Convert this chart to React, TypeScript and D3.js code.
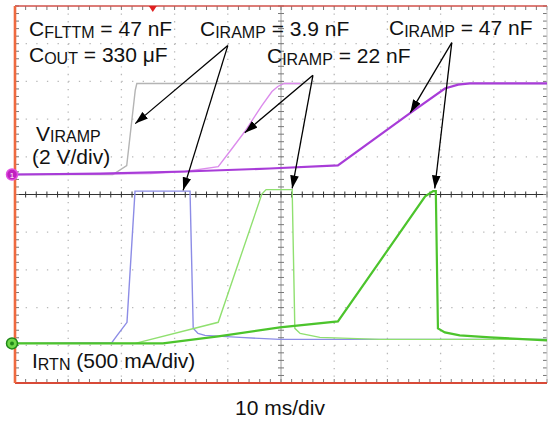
import React from "react";
import * as d3 from "d3";

// ---- data (time in ms, 10 ms/div; voltage in V; current in A) ----
const vGrayT = [0, 18.4, 21.0, 22.6, 22.9, 100];
const vGrayV = [0, 0, 0.48, 4.46, 4.83, 4.83];

const vPinkT = [0, 25.4, 32.0, 38.2, 40.8, 43.2, 46.4, 48.3, 49.4, 50.6, 53.6];
const vPinkV = [0, 0.05, 0.16, 0.42, 1.38, 2.28, 3.66, 4.4, 4.67, 4.83, 4.83];

const vPurpleT = [0, 16.0, 32.0, 47.9, 60.7, 74.2, 80.8, 83.3, 85.5, 100];
const vPurpleV = [0, 0.05, 0.16, 0.32, 0.48, 3.24, 4.56, 4.77, 4.83, 4.83];

const iBlueT = [0, 18.2, 19.2, 21.05, 22.56, 32.9, 33.5, 34.4, 35.7, 42.3, 49.8, 100];
const iBlueI = [0, 0.01, 0.106, 0.28, 2.02, 2.02, 0.2, 0.133, 0.106, 0.08, 0.053, 0.053];

const iLightGreenT = [0, 22.6, 38.2, 46.4, 47.2, 52.1, 52.6, 53.6, 57.3, 68.6, 100];
const iLightGreenI = [0, 0, 0.28, 1.98, 2.04, 2.04, 0.2, 0.133, 0.08, 0.053, 0.053];

const iGreenT = [0, 27.8, 38.2, 49.8, 60.7, 77.1, 78.6, 79.1, 79.5, 80.8, 83.6, 89.3, 100];
const iGreenI = [0, 0, 0.093, 0.212, 0.292, 1.95, 2.02, 2.02, 0.2, 0.146, 0.106, 0.08, 0.04];

// annotation arrows: [fromT, fromDiv, toT, toDiv]
const arrows = [
  [40.0, 3.95, 22.6, 1.88],
  [40.0, 3.95, 31.6, 0.11],
  [56.0, 3.16, 43.2, 1.64],
  [56.0, 3.16, 52.1, 0.16],
  [82.1, 4.03, 74.3, 2.17],
  [82.1, 4.03, 78.9, 0.16],
];

const W = 550;
const H = 423;
const X0 = 15, X1 = 547, Y0 = 6, Y1 = 383;
const CH1_OFFSET_DIV = 0.53;
const CH2_OFFSET_DIV = -3.95;
const V_PER_DIV = 2;
const A_PER_DIV = 0.5;
const FONT = "'Liberation Sans', Arial, Helvetica, sans-serif";

const xS = d3.scaleLinear().domain([0, 100]).range([X0, X1]);
const yDiv = d3.scaleLinear().domain([-5, 5]).range([Y1, Y0]);
const yV = (v: number) => yDiv(CH1_OFFSET_DIV + v / V_PER_DIV);
const yI = (i: number) => yDiv(CH2_OFFSET_DIV + i / A_PER_DIV);

function pts(t: number[], v: number[]): [number, number][] {
  return t.map((tt, k) => [tt, v[k]]);
}

const lineV = d3.line<[number, number]>().x(d => xS(d[0])).y(d => yV(d[1]));
const lineI = d3.line<[number, number]>().x(d => xS(d[0])).y(d => yI(d[1]));

function Sub({ main, sub, rest, x, y, dy = 2 }: { main: string; sub: string; rest: string; x: number; y: number; dy?: number }) {
  return (
    <text x={x} y={y} fontSize={21} fontFamily={FONT} fill="#111">
      <tspan>{main}</tspan>
      <tspan fontSize={16} dy={dy}>{sub}</tspan>
      {rest ? <tspan dy={-dy}>{rest}</tspan> : null}
    </text>
  );
}

export default function App() {
  const divX = d3.range(1, 10).map(k => xS(k * 10));
  const divY = d3.range(-4, 5).map(k => yDiv(k));
  const minorX = d3.range(0, 51).map(k => xS(k * 2));
  const minorY = d3.range(0, 51).map(k => yDiv(-5 + k * 0.2));
  const cx = xS(50);
  const cy = yDiv(0);

  return (
    <svg width={W} height={H} style={{ position: "absolute", left: 0, top: 0, background: "#fff" }}>
      <defs>
        <marker id="ah" viewBox="0 0 12 8" refX="12" refY="4" markerWidth="13" markerHeight="9"
          markerUnits="userSpaceOnUse" orient="auto">
          <path d="M0,0 L12,4 L0,8 Z" fill="#000" />
        </marker>
      </defs>
      <rect x={0} y={0} width={W} height={H} fill="#fff" />
      {/* dotted grid */}
      {divX.filter(x => Math.abs(x - cx) > 1).map((x, i) => (
        <line key={"gx" + i} x1={x} x2={x} y1={Y0} y2={Y1} stroke="#b8b8b8" strokeWidth={1.3}
          strokeDasharray={`1.3 ${(37.7 / 5 - 1.3).toFixed(2)}`} />
      ))}
      {divY.filter(y => Math.abs(y - cy) > 1).map((y, i) => (
        <line key={"gy" + i} x1={X0} x2={X1} y1={y} y2={y} stroke="#b8b8b8" strokeWidth={1.3}
          strokeDasharray={`1.3 ${(53.2 / 5 - 1.3).toFixed(2)}`} />
      ))}
      {/* center axes */}
      <line x1={cx} x2={cx} y1={Y0} y2={Y1} stroke="#9a9a9a" strokeWidth={1} />
      {minorY.map((y, i) => (
        <line key={"cty" + i} x1={cx - 3} x2={cx + 3} y1={y} y2={y} stroke="#777" strokeWidth={1} />
      ))}
      <line x1={X0} x2={X1} y1={cy} y2={cy} stroke="#333" strokeWidth={1.2} />
      {minorX.map((x, i) => (
        <line key={"ctx" + i} x1={x} x2={x} y1={cy - 3} y2={cy + 3} stroke="#333" strokeWidth={1} />
      ))}
      {/* border ticks */}
      {minorY.map((y, i) => (
        <g key={"bty" + i}>
          <line x1={X0} x2={X0 + 4} y1={y} y2={y} stroke="#777" strokeWidth={1} />
          <line x1={X1 - 4} x2={X1} y1={y} y2={y} stroke="#777" strokeWidth={1} />
        </g>
      ))}
      {minorX.map((x, i) => (
        <g key={"btx" + i}>
          <line x1={x} x2={x} y1={Y0} y2={Y0 + 4} stroke="#777" strokeWidth={1} />
          <line x1={x} x2={x} y1={Y1 - 4} y2={Y1} stroke="#777" strokeWidth={1} />
        </g>
      ))}
      {/* frame */}
      <line x1={X1} x2={X1} y1={Y0} y2={Y1} stroke="#c8c8c8" strokeWidth={1} />
      <line x1={X0} x2={X1} y1={Y0} y2={Y0} stroke="#d0504a" strokeWidth={1.6} />
      <line x1={X0} x2={X1} y1={Y1} y2={Y1} stroke="#d84a38" strokeWidth={1.8} />
      <line x1={X0} x2={X0} y1={Y0} y2={Y1} stroke="#ee6a40" strokeWidth={2.6} />
      {/* trigger marker */}
      <path d={`M${xS(25.9) - 4},${Y0} L${xS(25.9) + 4},${Y0} L${xS(25.9)},${Y0 + 6} Z`} fill="#e02020" />

      {/* traces */}
      <path d={lineV(pts(vGrayT, vGrayV)) || ""} fill="none" stroke="#b4b4b4" strokeWidth={1.4} />
      <path d={lineV(pts(vPinkT, vPinkV)) || ""} fill="none" stroke="#dc8cec" strokeWidth={1.4} />
      <path d={lineV(pts(vPurpleT, vPurpleV)) || ""} fill="none" stroke="#a83cd8" strokeWidth={2.2} />
      <path d={lineI(pts(iBlueT, iBlueI)) || ""} fill="none" stroke="#8c8ce6" strokeWidth={1.4} />
      <path d={lineI(pts(iLightGreenT, iLightGreenI)) || ""} fill="none" stroke="#90e070" strokeWidth={1.4} />
      <path d={lineI(pts(iGreenT, iGreenI)) || ""} fill="none" stroke="#4cc42c" strokeWidth={2.2} />

      {/* channel markers */}
      <circle cx={12} cy={yV(0)} r={5.5} fill="#c020c0" stroke="#e050e0" strokeWidth={1.5} />
      <text x={12} y={yV(0) + 3} fontSize={8} textAnchor="middle" fill="#fff" fontFamily={FONT}>1</text>
      <circle cx={12} cy={yI(0)} r={5.5} fill="#70d848" stroke="#208818" strokeWidth={1.5} />
      <circle cx={12} cy={yI(0)} r={2} fill="#208818" />

      {/* arrows */}
      {arrows.map((a, i) => (
        <line key={"ar" + i} x1={xS(a[0])} y1={yDiv(a[1])} x2={xS(a[2])} y2={yDiv(a[3])}
          stroke="#000" strokeWidth={1.3} markerEnd="url(#ah)" />
      ))}

      {/* labels */}
      <Sub x={29} y={36} main="C" sub="FLTTM" rest=" = 47 nF" />
      <Sub x={29} y={62} main="C" sub="OUT" rest=" = 330 μF" />
      <Sub x={200} y={36} main="C" sub="IRAMP" rest=" = 3.9 nF" />
      <Sub x={267} y={63} main="C" sub="IRAMP" rest=" = 22 nF" />
      <Sub x={389} y={35} main="C" sub="IRAMP" rest=" = 47 nF" />
      <Sub x={36} y={141} main="V" sub="IRAMP" rest="" dy={1} />
      <text x={32} y={164} fontSize={21} fontFamily={FONT} fill="#111">(2 V/div)</text>
      <Sub x={32} y={368} main="I" sub="RTN" rest=" (500 mA/div)" />
      <text x={280} y={415} fontSize={21} fontFamily={FONT} fill="#111" textAnchor="middle">10 ms/div</text>
    </svg>
  );
}
